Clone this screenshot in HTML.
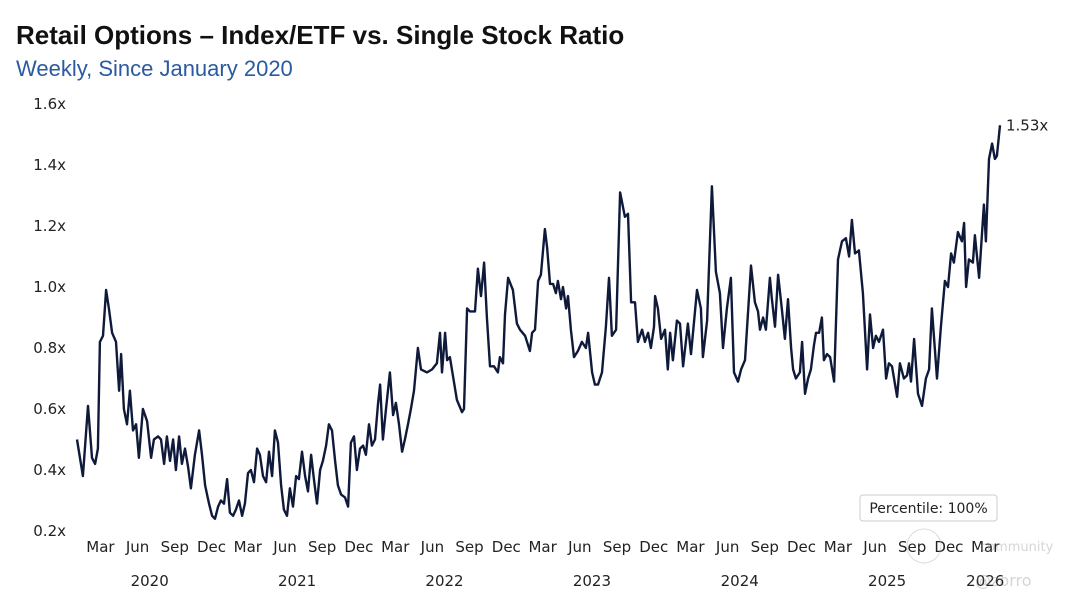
<!DOCTYPE html>
<html><head><meta charset="utf-8"><style>
body{margin:0;background:#fff;width:1080px;height:606px;overflow:hidden;font-family:"Liberation Sans","DejaVu Sans",sans-serif}
</style></head><body>
<svg width="1080" height="606" viewBox="0 0 1080 606" xmlns="http://www.w3.org/2000/svg">
<text x="16" y="44" font-size="26" font-weight="bold" fill="#111" font-family="Liberation Sans, sans-serif">Retail Options – Index/ETF vs. Single Stock Ratio</text>
<text x="16" y="76" font-size="22" fill="#2a5aa0" font-family="Liberation Sans, sans-serif">Weekly, Since January 2020</text>
<g id="yaxis"></g>
<g id="xaxis"></g>
<path id="line" fill="none" stroke="#0f1a3a" stroke-width="2.4" stroke-linejoin="round"/>
<text id="lastlbl" font-size="15" fill="#222" font-family="DejaVu Sans, sans-serif"></text>
<g>
<rect x="860" y="495" width="137" height="26" rx="3" fill="#fff" stroke="#ccc"/>
<text x="928.5" y="513" text-anchor="middle" font-size="14" fill="#222" font-family="DejaVu Sans, sans-serif">Percentile: 100%</text>
</g>
<g opacity="0.35" font-family="DejaVu Sans, sans-serif" fill="#888">
<circle cx="924" cy="546" r="17" fill="none" stroke="#999"/>
<text x="980" y="551" font-size="13">community</text>
<text x="975" y="586" font-size="16">@zorro</text>
</g>
</svg>
<script>
const weeks=[0,2.1,3.9,5.3,6.4,7.4,8.1,9.2,10.3,11.3,12.4,13.8,14.9,15.6,16.6,17.7,18.7,19.8,20.9,21.9,23.3,24.8,26.2,27.2,28.7,29.7,30.8,31.8,32.9,34,35,36.1,37.1,38.2,39.3,40.3,41.7,43.2,44.2,45.3,46.7,47.8,48.8,49.9,50.9,52,53.1,54.1,55.2,56.2,57.3,58.4,59.4,60.5,61.5,62.6,63.7,64.7,65.8,66.9,67.9,69,70,71.1,72.2,73.2,74.3,75.3,76.4,77.5,78.5,79.6,80.7,81.7,82.8,83.8,84.9,86,87,88.1,89.1,90.2,91.3,92.3,93.4,94.8,95.9,96.9,98,99,100.1,101.2,102.2,103.3,104.3,105.4,106.5,107.2,108.2,109.3,110.7,111.8,112.8,113.9,115,116,117.1,118.1,119.2,120.6,121.7,123.8,125.6,127.3,128.4,129.1,130.2,130.9,131.9,132.6,134.4,136.2,136.9,138,139,140.8,141.8,142.9,144,145,146.1,147.5,148.9,149.6,150.7,151.4,152.5,154.2,155.6,156.7,158.5,160.2,161,162,163.1,164.1,165.5,166.3,167.3,168.4,169.4,170.1,171.2,171.9,173,173.7,174.7,175.8,177.2,178.6,180,180.8,182.2,183.2,184.3,185.7,187.1,188.2,189.2,190.7,192.1,193.8,194.9,196,197.4,198.4,199.9,200.9,202,203,204.1,204.5,205.5,206.6,208,209,209.8,210.8,212.2,213.3,214.4,216.1,217.2,219.3,220.7,221.4,222.9,224.6,226,227.4,228.5,229.9,231.3,232.4,233.8,234.9,236.3,238.4,239.8,240.9,241.6,242.7,243.7,245.1,245.8,246.9,248,249.4,250.4,251.5,252.6,253.3,254.3,255.7,256.5,257.5,258.6,259.6,260.7,261.4,262.5,263.5,264.2,265.3,266.4,267.8,269.2,270.6,272,273.1,274.1,275.2,276.6,278,279.5,280.5,281.6,282.6,283.7,285.1,286.2,287.2,288.3,290.1,291.1,292.5,293.6,294.3,295,296.1,297.5,298.9,300.3,301.4,302.4,304.2,305.6,307,308.1,309.2,310.2,311.6,313,313.8,314.5,315.5,316.9,317.6,319.1,320.8,321.5,322.6,323.7,324.7,325.4,326.5];
const ratio=[0.50,0.38,0.61,0.44,0.42,0.47,0.82,0.84,0.99,0.93,0.85,0.82,0.66,0.78,0.60,0.55,0.66,0.53,0.55,0.44,0.60,0.56,0.44,0.50,0.51,0.50,0.42,0.51,0.43,0.50,0.40,0.51,0.42,0.47,0.41,0.34,0.45,0.53,0.45,0.35,0.29,0.25,0.24,0.28,0.30,0.29,0.37,0.26,0.25,0.27,0.30,0.25,0.29,0.39,0.40,0.36,0.47,0.45,0.38,0.36,0.46,0.38,0.53,0.49,0.35,0.27,0.25,0.34,0.28,0.38,0.37,0.46,0.38,0.33,0.45,0.37,0.29,0.40,0.43,0.48,0.55,0.53,0.43,0.35,0.32,0.31,0.28,0.49,0.51,0.40,0.47,0.48,0.45,0.55,0.48,0.50,0.62,0.68,0.50,0.60,0.72,0.58,0.62,0.55,0.46,0.50,0.55,0.60,0.66,0.80,0.73,0.72,0.73,0.75,0.85,0.72,0.85,0.76,0.77,0.73,0.63,0.59,0.60,0.93,0.92,0.92,1.06,0.97,1.08,0.90,0.74,0.74,0.72,0.77,0.75,0.91,1.03,0.99,0.88,0.86,0.84,0.79,0.85,0.86,1.02,1.04,1.19,1.13,1.01,1.01,0.98,1.02,0.96,1.00,0.93,0.97,0.86,0.77,0.79,0.82,0.80,0.85,0.72,0.68,0.68,0.72,0.87,1.03,0.84,0.86,1.31,1.23,1.24,0.95,0.95,0.82,0.86,0.82,0.85,0.80,0.87,0.97,0.93,0.83,0.86,0.73,0.85,0.76,0.89,0.88,0.74,0.88,0.78,0.99,0.93,0.77,0.89,1.33,1.05,0.98,0.80,0.93,1.03,0.72,0.69,0.73,0.76,1.07,0.95,0.92,0.86,0.90,0.86,1.03,0.96,0.87,1.04,0.92,0.83,0.96,0.80,0.73,0.70,0.72,0.82,0.65,0.70,0.73,0.81,0.85,0.85,0.90,0.76,0.78,0.77,0.69,1.09,1.15,1.16,1.10,1.22,1.11,1.12,0.98,0.73,0.91,0.80,0.84,0.82,0.86,0.70,0.75,0.74,0.64,0.75,0.70,0.71,0.75,0.69,0.83,0.65,0.61,0.70,0.73,0.93,0.70,0.87,1.02,1.00,1.11,1.08,1.18,1.15,1.21,1.00,1.09,1.08,1.17,1.03,1.27,1.15,1.42,1.47,1.42,1.43,1.53];
const yTicks=[0.2,0.4,0.6,0.8,1.0,1.2,1.4,1.6];
const yTickLabels=["0.2x","0.4x","0.6x","0.8x","1.0x","1.2x","1.4x","1.6x"];
const monthNames=["Mar","Jun","Sep","Dec"];
const monthNums=[3,6,9,12];
const years=[2020,2021,2022,2023,2024,2025,2026];
const lastLabel="1.53x";

const NS="http://www.w3.org/2000/svg";
const X=w=>77+w*2.827;
const Y=v=>531-(v-0.2)*305;
const dateToWeek=(y,m,d)=>{const t=Date.UTC(y,m-1,d)-Date.UTC(2020,0,3);return t/(7*864e5);};
function txt(parent,x,y,s,anchor,size){const t=document.createElementNS(NS,'text');t.setAttribute('x',x);t.setAttribute('y',y);t.setAttribute('text-anchor',anchor);t.setAttribute('font-size',size);t.setAttribute('fill','#222');t.setAttribute('font-family','DejaVu Sans, sans-serif');t.textContent=s;parent.appendChild(t);return t;}
const ya=document.getElementById('yaxis');
yTicks.forEach((v,i)=>{const t=txt(ya,66,Y(v)+5,yTickLabels[i],'end',15);

});
const xa=document.getElementById('xaxis');
years.forEach(y=>{monthNums.forEach((m,i)=>{const w=dateToWeek(y,m,1);if(w<0||w>330)return;
const t=txt(xa,X(w),552,monthNames[i],'middle',15);

});
const wy=dateToWeek(y,7,1);const t=txt(xa,X(Math.min(wy,dateToWeek(2026,3,1))),586,String(y),'middle',15);

});
let d='';weeks.forEach((w,i)=>{d+=(i?'L':'M')+X(w).toFixed(1)+','+Y(ratio[i]).toFixed(1);});
document.getElementById('line').setAttribute('d',d);
const n=weeks.length-1;const ll=document.getElementById('lastlbl');
ll.setAttribute('x',X(weeks[n])+6);ll.setAttribute('y',Y(ratio[n])+5);ll.textContent=lastLabel;
</script>
</body></html>
